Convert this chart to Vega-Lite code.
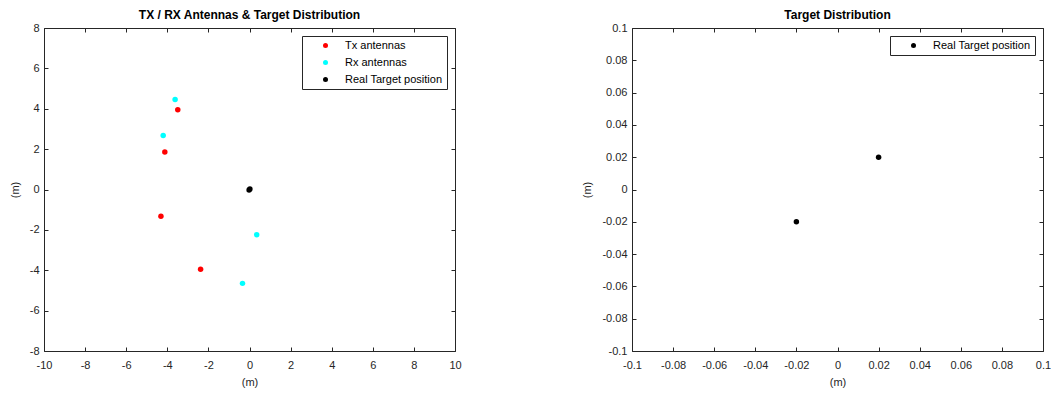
{
  "$schema": "https://vega.github.io/schema/vega-lite/v6.json",
  "padding": {"left": 9, "top": 9, "right": 0, "bottom": 5},
  "background": "white",
  "datasets": {
    "left": [
      {"series": "Tx antennas", "x": -3.49, "y": 3.95},
      {"series": "Tx antennas", "x": -4.12, "y": 1.86},
      {"series": "Tx antennas", "x": -4.31, "y": -1.32},
      {"series": "Tx antennas", "x": -2.38, "y": -3.95},
      {"series": "Rx antennas", "x": -3.62, "y": 4.46},
      {"series": "Rx antennas", "x": -4.2, "y": 2.67},
      {"series": "Rx antennas", "x": 0.35, "y": -2.24},
      {"series": "Rx antennas", "x": -0.34, "y": -4.65},
      {"series": "Real Target position", "x": 0.02, "y": 0.02},
      {"series": "Real Target position", "x": -0.02, "y": -0.02}
    ],
    "right": [
      {"series": "Real Target position", "x": 0.02, "y": 0.02},
      {"series": "Real Target position", "x": -0.02, "y": -0.02}
    ]
  },
  "config": {
    "font": "Liberation Sans",
    "view": {"stroke": null},
    "axis": {
      "domainColor": "#262626",
      "tickColor": "#262626",
      "tickSize": -4,
      "labelColor": "#262626",
      "labelFontSize": 11,
      "labelFont": "Liberation Sans",
      "titleFont": "Liberation Sans",
      "titleFontSize": 11,
      "titleFontWeight": "normal",
      "titleColor": "#262626",
      "grid": false,
      "labelFlush": false,
      "labelOverlap": false,
      "labelPadding": 10,
      "labelExpr": "replace(datum.label, '−', '-')"
    },
    "axisX": {"labelPadding": 12, "titlePadding": 6},
    "axisY": {"labelPadding": 9, "titlePadding": 9},
    "title": {"font": "Liberation Sans", "fontSize": 12, "fontWeight": "bold", "color": "#000000", "offset": 0, "dy": 4},
    "legend": {
      "strokeColor": "#262626",
      "fillColor": "white",
      "padding": 4,
      "labelFont": "Liberation Sans",
      "labelFontSize": 11,
      "labelColor": "#000000",
      "symbolType": "circle",
      "symbolSize": 25,
      "symbolStrokeWidth": 0,
      "symbolOffset": 14,
      "labelOffset": 14,
      "rowPadding": 5,
      "orient": "top-right",
      "offset": 8,
      "title": null
    }
  },
  "hconcat": [
    {
      "title": "TX / RX Antennas & Target Distribution",
      "width": 411,
      "height": 323,
      "data": {"name": "left"},
      "layer": [
        {
          "mark": {"type": "point", "filled": true, "opacity": 1, "size": 30},
          "encoding": {
            "x": {"field": "x", "type": "quantitative", "scale": {"domain": [-10, 10], "nice": false, "zero": false}, "axis": {"title": "(m)", "values": [-10,-8,-6,-4,-2,0,2,4,6,8,10], "orient": "bottom"}},
            "y": {"field": "y", "type": "quantitative", "scale": {"domain": [-8, 8], "nice": false, "zero": false}, "axis": {"title": "(m)", "values": [-8,-6,-4,-2,0,2,4,6,8], "orient": "left"}},
            "color": {"field": "series", "type": "nominal", "scale": {"domain": ["Tx antennas", "Rx antennas", "Real Target position"], "range": ["#ff0000", "#00ffff", "#000000"]}, "legend": {"orient": "top-right"}}
          }
        },
        {
          "mark": {"type": "point", "opacity": 0},
          "encoding": {
            "x": {"field": "x", "type": "quantitative", "axis": {"orient": "top", "labels": false, "title": null, "values": [-10,-8,-6,-4,-2,0,2,4,6,8,10]}},
            "y": {"field": "y", "type": "quantitative", "axis": {"orient": "right", "labels": false, "title": null, "values": [-8,-6,-4,-2,0,2,4,6,8]}}
          }
        }
      ]
    },
    {
      "title": "Target Distribution",
      "width": 411,
      "height": 323,
      "data": {"name": "right"},
      "layer": [
        {
          "mark": {"type": "point", "filled": true, "opacity": 1, "size": 30},
          "encoding": {
            "x": {"field": "x", "type": "quantitative", "scale": {"domain": [-0.1, 0.1], "nice": false, "zero": false}, "axis": {"title": "(m)", "values": [-0.1,-0.08,-0.06,-0.04,-0.02,0,0.02,0.04,0.06,0.08,0.1], "format": "~g", "orient": "bottom"}},
            "y": {"field": "y", "type": "quantitative", "scale": {"domain": [-0.1, 0.1], "nice": false, "zero": false}, "axis": {"title": "(m)", "values": [-0.1,-0.08,-0.06,-0.04,-0.02,0,0.02,0.04,0.06,0.08,0.1], "format": "~g", "orient": "left"}},
            "color": {"field": "series", "type": "nominal", "scale": {"domain": ["Real Target position"], "range": ["#000000"]}, "legend": {"orient": "top-right"}}
          }
        },
        {
          "mark": {"type": "point", "opacity": 0},
          "encoding": {
            "x": {"field": "x", "type": "quantitative", "axis": {"orient": "top", "labels": false, "title": null, "values": [-0.1,-0.08,-0.06,-0.04,-0.02,0,0.02,0.04,0.06,0.08,0.1]}},
            "y": {"field": "y", "type": "quantitative", "axis": {"orient": "right", "labels": false, "title": null, "values": [-0.1,-0.08,-0.06,-0.04,-0.02,0,0.02,0.04,0.06,0.08,0.1]}}
          }
        }
      ]
    }
  ],
  "spacing": 119,
  "resolve": {"scale": {"color": "independent"}, "legend": {"color": "independent"}}
}
